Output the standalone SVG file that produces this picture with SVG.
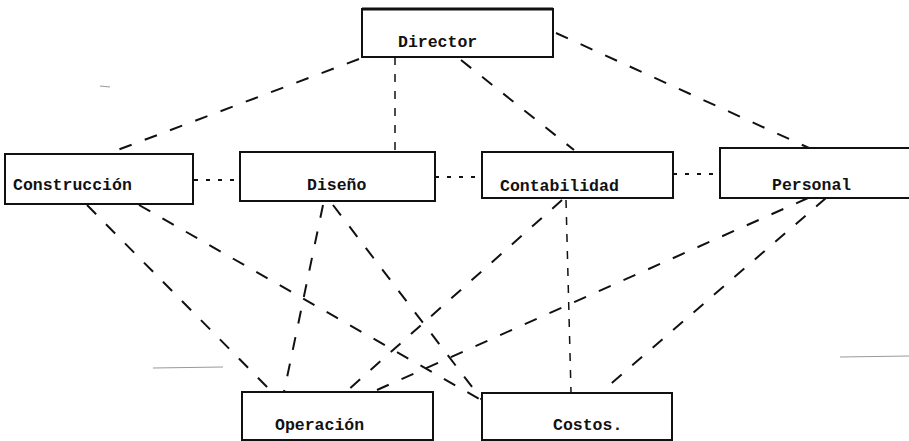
<svg xmlns="http://www.w3.org/2000/svg" width="909" height="441" viewBox="0 0 909 441">
<style>
.box{fill:#fff;stroke:#111;stroke-width:2}
.lbl{font-family:"Liberation Mono","DejaVu Sans Mono",monospace;font-size:16.5px;font-weight:bold;fill:#111}
.dash{stroke:#111;stroke-width:2;fill:none;stroke-dasharray:13 14}
.fine{stroke:#111;stroke-width:1.5;fill:none;stroke-dasharray:8 9}
.dot{stroke:#111;stroke-width:2;fill:none;stroke-dasharray:4 8}
.noise{stroke:#999;stroke-width:1;fill:none}
</style>
<rect width="909" height="441" fill="#fff"/>
<g id="noise">
<line class="noise" x1="153" y1="368" x2="223" y2="367"/>
<line class="noise" x1="840" y1="357" x2="909" y2="356"/>
<line class="noise" x1="100" y1="86" x2="110" y2="87"/>
</g>
<g id="connectors">
<line class="dash" x1="359" y1="59" x2="107" y2="154"/>
<line class="fine" x1="395" y1="57" x2="395" y2="152"/>
<line class="dash" x1="461" y1="60" x2="574" y2="150"/>
<line class="dash" x1="556" y1="33" x2="809" y2="148"/>
<line class="dot" x1="194" y1="180" x2="240" y2="180"/>
<line class="dot" x1="435" y1="177" x2="482" y2="177"/>
<line class="dot" x1="673" y1="174" x2="720" y2="174"/>
<line class="dash" x1="87" y1="205" x2="272" y2="392"/>
<line class="dash" x1="139" y1="205" x2="481" y2="400"/>
<line class="dash" x1="323" y1="205" x2="284" y2="392"/>
<line class="dash" x1="333" y1="205" x2="482" y2="400"/>
<line class="dash" x1="562" y1="200" x2="348" y2="390"/>
<line class="fine" x1="566" y1="200" x2="571" y2="392"/>
<line class="dash" x1="808" y1="198" x2="377" y2="390"/>
<line class="dash" x1="826" y1="198" x2="606" y2="388"/>
</g>
<g id="director">
<rect class="box" x="362" y="9" width="191" height="48"/>
<line x1="362" y1="9" x2="553" y2="9" stroke="#111" stroke-width="3"/>
<text class="lbl" x="398" y="47">Director</text>
</g>
<g id="construccion">
<rect class="box" x="5" y="154" width="188" height="50"/>
<text class="lbl" x="13" y="190">Construcción</text>
</g>
<g id="diseno">
<rect class="box" x="240" y="152" width="195" height="49"/>
<text class="lbl" x="307" y="190">Diseño</text>
</g>
<g id="contabilidad">
<rect class="box" x="482" y="152" width="191" height="46"/>
<text class="lbl" x="500" y="191">Contabilidad</text>
</g>
<g id="personal">
<rect class="box" x="720" y="148" width="200" height="50"/>
<text class="lbl" x="772" y="190">Personal</text>
</g>
<g id="operacion">
<rect class="box" x="242" y="392" width="191" height="48"/>
<text class="lbl" x="275" y="430">Operación</text>
</g>
<g id="costos">
<rect class="box" x="482" y="393" width="190" height="47"/>
<text class="lbl" x="553" y="430">Costos.</text>
</g>
</svg>
